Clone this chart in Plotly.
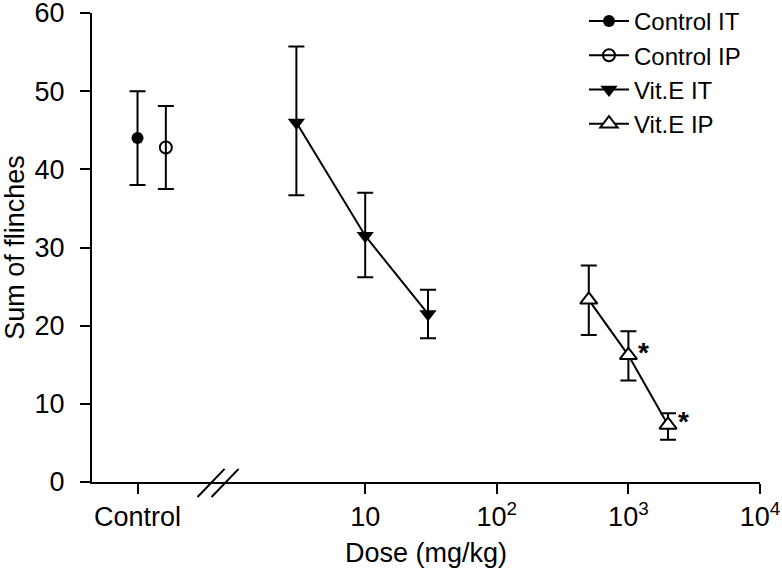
import numpy as np
import plotly.graph_objects as go

# ---- data ----
series_names = ["Control IT", "Control IP", "Vit.E IT", "Vit.E IP"]
control_it_mean = [44.0]
control_it_err = [6.0]
control_ip_mean = [42.8]
control_ip_err = [5.3]
vite_it_dose = [3, 10, 30]
vite_it_mean = [46.0, 31.5, 21.5]
vite_it_err_plus = [9.7, 5.5, 3.1]
vite_it_err_minus = [9.3, 5.3, 3.1]
vite_ip_dose = [500, 1000, 2000]
vite_ip_mean = [23.3, 16.2, 7.3]
vite_ip_err_plus = [4.4, 3.1, 1.5]
vite_ip_err_minus = [4.5, 3.2, 1.9]
significant = [False, True, True]  # Vit.E IP points marked with *
x_tick_labels = ["Control", "10", "10<sup>2</sup>", "10<sup>3</sup>", "10<sup>4</sup>"]
x_tick_values = [10, 100, 1000, 10000]
y_ticks = [0, 10, 20, 30, 40, 50, 60]

# nominal positions of the control groups on the broken log axis
CONTROL_POS = 10 ** -0.73
CONTROL_IP_POS = 10 ** -0.515

FONT = "Liberation Sans, Arial, sans-serif"
BLACK = "black"
FS = 27

def errbar(plus, minus=None):
    d = dict(type="data", array=plus, color=BLACK, thickness=2, width=8)
    if minus is not None:
        d["arrayminus"] = minus
        d["symmetric"] = False
    return d

fig = go.Figure()
fig.add_trace(go.Scatter(
    x=[CONTROL_POS], y=control_it_mean, name=series_names[0], mode="lines+markers",
    line=dict(color=BLACK, width=2),
    marker=dict(symbol="circle", size=12, color=BLACK),
    error_y=errbar(control_it_err)))
fig.add_trace(go.Scatter(
    x=[CONTROL_IP_POS], y=control_ip_mean, name=series_names[1], mode="lines+markers",
    line=dict(color=BLACK, width=2),
    marker=dict(symbol="circle-open", size=12, color=BLACK, line=dict(width=2)),
    error_y=errbar(control_ip_err)))
fig.add_trace(go.Scatter(
    x=vite_it_dose, y=vite_it_mean, name=series_names[2], mode="lines+markers",
    line=dict(color=BLACK, width=2),
    marker=dict(symbol="triangle-down", size=15, color=BLACK),
    error_y=errbar(vite_it_err_plus, vite_it_err_minus)))
fig.add_trace(go.Scatter(
    x=vite_ip_dose, y=vite_ip_mean, name=series_names[3], mode="lines+markers",
    line=dict(color=BLACK, width=2),
    marker=dict(symbol="triangle-up", size=15, color="white", line=dict(width=2, color=BLACK)),
    error_y=errbar(vite_ip_err_plus, vite_ip_err_minus)))

# significance asterisks
for d, m, s in zip(vite_ip_dose, vite_ip_mean, significant):
    if s:
        fig.add_annotation(x=np.log10(d), y=m, xref="x", yref="y", text="<b>*</b>",
                           showarrow=False, xshift=15, yshift=3,
                           font=dict(family=FONT, size=28, color=BLACK))

# axis break marks
for x0 in (0.158, 0.179):
    fig.add_shape(type="line", xref="paper", yref="paper",
                  x0=x0, x1=x0 + 0.0405, y0=-0.032, y1=0.028,
                  line=dict(color=BLACK, width=2))

fig.update_xaxes(
    type="log", range=[-1.076, 4.0], automargin=False, ticklabeloverflow="allow",
    tickvals=[CONTROL_POS] + x_tick_values, ticktext=x_tick_labels,
    showline=True, linecolor=BLACK, linewidth=2,
    ticks="outside", ticklen=10, tickwidth=2, tickcolor=BLACK,
    showgrid=False, zeroline=False,
    tickfont=dict(family=FONT, size=FS, color=BLACK),
    title=dict(text="Dose (mg/kg)", font=dict(family=FONT, size=FS, color=BLACK), standoff=12),
)
fig.update_yaxes(
    range=[0, 60], tickvals=y_ticks, automargin=False, ticklabeloverflow="allow",
    ticklabelstandoff=10,
    showline=True, linecolor=BLACK, linewidth=2,
    ticks="outside", ticklen=10, tickwidth=2, tickcolor=BLACK,
    showgrid=False, zeroline=False,
    tickfont=dict(family=FONT, size=FS, color=BLACK),
    title=dict(text="Sum of flinches", font=dict(family=FONT, size=FS, color=BLACK), standoff=3),
)
fig.update_layout(
    width=782, height=574,
    margin=dict(l=92, r=22, t=13, b=92, autoexpand=False),
    paper_bgcolor="white", plot_bgcolor="white",
    showlegend=True,
    legend=dict(x=0.7365, y=1.03, xanchor="left", yanchor="top",
                font=dict(family=FONT, size=24, color=BLACK),
                bgcolor="rgba(0,0,0,0)", tracegroupgap=0, itemwidth=40),
)
# remove the default page margin so the figure fills the window exactly
fig.write_html("out.html", config={"displayModeBar": False},
               post_script="document.body.style.margin='0px';")
